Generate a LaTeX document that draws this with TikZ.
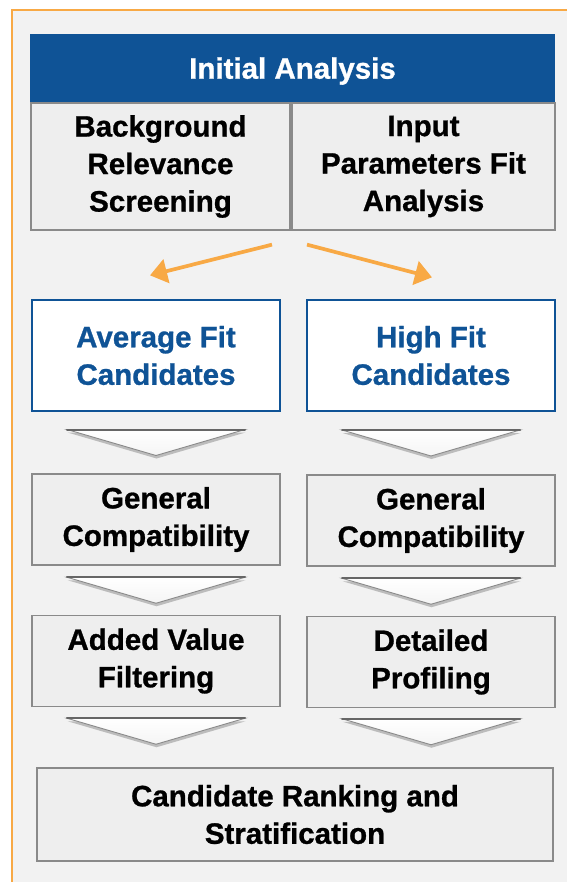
\documentclass[tikz,border=0pt]{standalone}
\usepackage{fontspec}
\setmainfont{Liberation Sans}[BoldFeatures={FakeBold=0.9}]
\usetikzlibrary{positioning,arrows.meta,calc,shadows}
\definecolor{headBlue}{HTML}{0F5396}
\definecolor{panelGray}{HTML}{F2F2F2}
\definecolor{boxGray}{HTML}{EEEEEE}
\definecolor{edgeGray}{HTML}{8A8A8A}
\definecolor{fitOrange}{HTML}{F8A945}

\begin{document}
\begin{tikzpicture}[x=1pt, y=-1pt, >=Stealth,
          every node/.style={font=\bfseries\fontsize{29.5}{37.5}\selectfont, align=center, inner sep=0pt},
          head/.style={fill=headBlue, text=white, minimum width=525pt, minimum height=68pt, text depth=0pt},
          stage/.style={draw=edgeGray, line width=1.3pt, fill=boxGray, minimum width=248pt, minimum height=91pt},
          fitbox/.style={draw=headBlue, line width=1.3pt, fill=white, text=headBlue, minimum width=248pt, minimum height=111pt},
          chev/.style={draw=edgeGray, line width=0.9pt, top color=white, bottom color=gray!8,
            drop shadow={shadow xshift=0.5pt, shadow yshift=-3pt, opacity=0.22, fill=black}},
          chevtop/.style={draw=black!60, line width=2pt, line cap=round},
          split/.style={fitOrange, line width=3.7pt, -{Triangle[length=17pt,width=24pt]}}]
        \useasboundingbox (0,0) rectangle (566,882);
        \fill[white] (0,0) rectangle (566,882);
        \draw[fitOrange, line width=2pt, fill=panelGray] (12,10) rectangle (590,900);
        \node[head] (head) at (292.5,68) {Initial Analysis};
        \node[stage, minimum width=259pt, minimum height=127pt] (bg) at (160.5,166.5) {Background\\Relevance\\Screening};
        \node[stage, minimum width=263pt, minimum height=127pt] (inp) at (423.5,166.5) {Input\\Parameters Fit\\Analysis};
        \node[fitbox] (avg) at (156,355.5) {Average Fit\\Candidates};
        \node[fitbox] (high) at (431,355.5) {High Fit\\Candidates};
        \node[stage] (gen1) at (156,519.5) {General\\Compatibility};
        \node[stage] (gen2) at (431,520.5) {General\\Compatibility};
        \node[stage] (add) at (156,661) {Added Value\\Filtering};
        \node[stage] (det) at (431,662) {Detailed\\Profiling};
        \node[stage, minimum width=516pt, minimum height=93pt] (rank) at (295,814.5) {Candidate Ranking and\\Stratification};
        \coordinate (fork) at ($(bg.south east)!0.5!(inp.south west)$);
        \draw[split] ($(fork)+(-19,14)$) -- ($(avg.north)+(-6,-24)$);
        \draw[split] ($(fork)+(16,14)$) -- ($(high.north)+(1,-22)$);
        \foreach \a/\b/\s in {avg/gen1/0, high/gen2/0, gen1/add/0, gen2/det/0, add/rank/-6, det/rank/-6} {
          \coordinate (m) at ($(\a.south)!0.5!(\a.south |- \b.north)+(0,\s)$);
          \draw[chev] ($(m)+(-89,-13)$) -- ($(m)+(89,-13)$) -- ($(m)+(0,13)$) -- cycle;
          \draw[chevtop] ($(m)+(-89,-13)$) -- ($(m)+(89,-13)$);
        }
      \end{tikzpicture}
\end{document}
